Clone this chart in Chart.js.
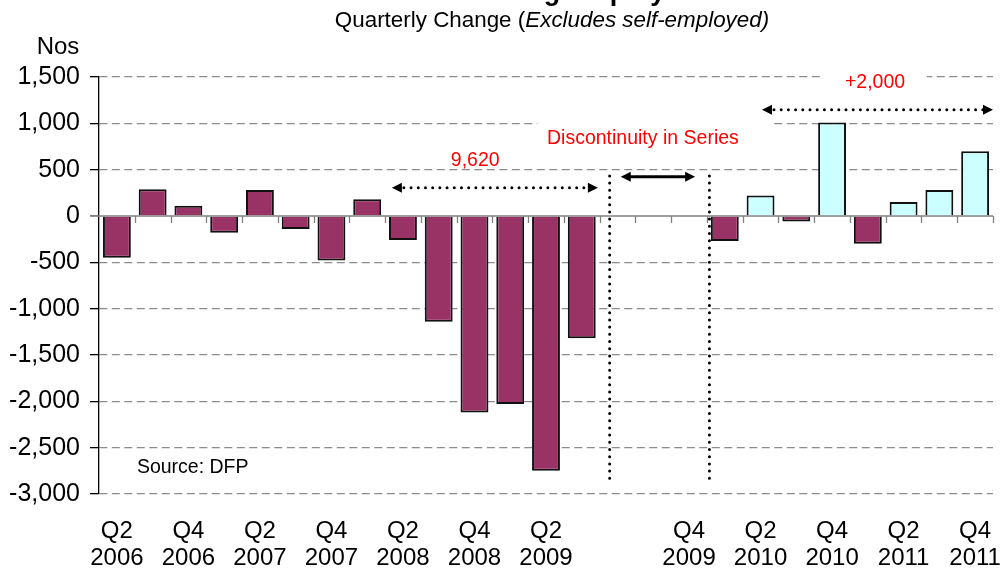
<!DOCTYPE html>
<html>
<head>
<meta charset="utf-8">
<script src="https://cdn.jsdelivr.net/npm/chart.js@4"></script>
<style>
  html, body { margin: 0; padding: 0; background: #fff; }
  #wrap { width: 1002px; height: 568px; }
</style>
</head>
<body>
<div id="wrap"><canvas id="empChart" width="1002" height="568"></canvas></div>
<script>
// Data

const quarters = [
  'Q2 2006', 'Q3 2006', 'Q4 2006', 'Q1 2007', 'Q2 2007', 'Q3 2007', 'Q4 2007',
  'Q1 2008', 'Q2 2008', 'Q3 2008', 'Q4 2008', 'Q1 2009', 'Q2 2009', 'Q3 2009',
  '', '',
  'Q4 2009', 'Q1 2010', 'Q2 2010', 'Q3 2010', 'Q4 2010', 'Q1 2011', 'Q2 2011', 'Q3 2011', 'Q4 2011',
]

// old series Q2 2006 - Q3 2009
const oldSeries = [-450, 290, 110, -180, 280, -140, -480, 180, -260, -1140, -2120, -2030, -2750, -1320]
// new series Q1 2010 - Q4 2011
const newSeries = [-270, 220, -60, 1010, -300, 150, 280, 700]

const yTickValues = [1500, 1000, 500, 0, -500, -1000, -1500, -2000, -2500, -3000]

const titleText = 'Manufacturing Employment'
const subtitleText = 'Quarterly Change ('
const subtitleItalic = 'Excludes self-employed)'

// -------------------------

const MAROON = '#993366'
const CYAN = '#CCFFFF'
const FONT = '"Liberation Sans", Arial, sans-serif'

const newStart = quarters.indexOf('Q1 2010')
const oldData = quarters.map((q, i) => (i < oldSeries.length ? oldSeries[i] : null))
const newData = quarters.map((q, i) => (i >= newStart ? newSeries[i - newStart] : null))

// Drawing helpers

const dottedLine = (ctx, x1, y1, x2, y2) => {
  ctx.save()
  ctx.strokeStyle = '#000'
  ctx.lineWidth = 3
  ctx.lineCap = 'round'
  ctx.setLineDash([0, 7.2])
  ctx.beginPath()
  ctx.moveTo(x1, y1)
  ctx.lineTo(x2, y2)
  ctx.stroke()
  ctx.restore()
}

const arrowHead = (ctx, x, y, dir) => {
  ctx.beginPath()
  ctx.moveTo(x, y)
  ctx.lineTo(x - dir * 10, y - 5)
  ctx.lineTo(x - dir * 10, y + 5)
  ctx.closePath()
  ctx.fill()
}

const doubleArrow = (ctx, x1, x2, y, dotted) => {
  ctx.save()
  ctx.fillStyle = '#000'
  if (dotted) {
    dottedLine(ctx, x1 + 12, y, x2 - 10, y)
  } else {
    ctx.strokeStyle = '#000'
    ctx.lineWidth = 3
    ctx.beginPath()
    ctx.moveTo(x1 + 6, y)
    ctx.lineTo(x2 - 6, y)
    ctx.stroke()
  }
  arrowHead(ctx, x1, y, -1)
  arrowHead(ctx, x2, y, 1)
  ctx.restore()
}

const label = (ctx, text, x, y, color, size, box) => {
  ctx.save()
  ctx.font = `${size}px ${FONT}`
  if (box) {
    ctx.fillStyle = '#fff'
    ctx.fillRect(box[0], box[1], box[2] - box[0], box[3] - box[1])
  }
  ctx.fillStyle = color
  ctx.textBaseline = 'middle'
  ctx.textAlign = 'center'
  ctx.fillText(text, x, y)
  ctx.restore()
}

// Zero line with tick marks at category boundaries
const zeroAxis = {
  id: 'zeroAxis',
  beforeDatasetsDraw(chart) {
    const { ctx, scales: { x, y } } = chart
    const y0 = y.getPixelForValue(0)
    const w = (x.right - x.left) / quarters.length
    ctx.save()
    ctx.strokeStyle = '#808080'
    ctx.lineWidth = 1.3
    ctx.beginPath()
    ctx.moveTo(x.left - 9, y0)
    ctx.lineTo(x.right, y0)
    for (let i = 1; i <= quarters.length; i++) {
      const px = Math.round(x.left + i * w) + 0.5
      ctx.moveTo(px, y0)
      ctx.lineTo(px, y0 + 7)
    }
    ctx.stroke()
    ctx.restore()
  },
}

// Annotations, titles
const annotations = {
  id: 'annotations',
  afterDraw(chart) {
    const { ctx, scales: { x, y } } = chart
    const w = (x.right - x.left) / quarters.length
    const X = (u) => x.left + (u + 0.5) * w
    const Y = (v) => y.getPixelForValue(v)

    // title (cut off at top) and subtitle
    ctx.save()
    ctx.fillStyle = '#000'
    ctx.textAlign = 'center'
    ctx.textBaseline = 'alphabetic'
    ctx.font = `bold 27px ${FONT}`
    ctx.fillText(titleText, 552, 0)
    ctx.font = `22.4px ${FONT}`
    const w1 = ctx.measureText(subtitleText).width
    ctx.font = `italic 22.4px ${FONT}`
    const w2 = ctx.measureText(subtitleItalic).width
    const sx = 552 - (w1 + w2) / 2
    ctx.textAlign = 'left'
    ctx.font = `22.4px ${FONT}`
    ctx.fillText(subtitleText, sx, 27)
    ctx.font = `italic 22.4px ${FONT}`
    ctx.fillText(subtitleItalic, sx + w1, 27)

    // axis unit
    ctx.font = `24px ${FONT}`
    ctx.textAlign = 'center'
    ctx.textBaseline = 'middle'
    ctx.fillText('Nos', 58, 47)
    ctx.restore()

    // discontinuity markers
    dottedLine(ctx, X(13.78), Y(433), X(13.78), Y(-2852))
    dottedLine(ctx, X(16.57), Y(433), X(16.57), Y(-2852))
    doubleArrow(ctx, X(14.09), X(16.17), Y(423), false)
    label(ctx, 'Discontinuity in Series', X(14.71), Y(833), 'red', 19.5,
      [X(11.76), Y(1040), X(18.36), Y(660)])

    // fall in old series
    doubleArrow(ctx, X(7.69), X(13.45), Y(304), true)
    label(ctx, '9,620', X(10.02), Y(600), 'red', 19.5)

    // rise in new series
    doubleArrow(ctx, X(18.04), X(24.5), Y(1147), true)
    label(ctx, '+2,000', X(21.2), Y(1442), 'red', 19.5,
      [X(19.75), Y(1560), X(22.65), Y(1330)])

    // source
    ctx.save()
    ctx.font = `19.5px ${FONT}`
    ctx.fillStyle = '#000'
    ctx.textBaseline = 'middle'
    ctx.fillText('Source: DFP', X(0.56), Y(-2719))
    ctx.restore()
  },
}

// Chart

const empCtx = document.getElementById('empChart').getContext('2d')

new Chart(empCtx, {
  type: 'bar',
  data: {
    labels: quarters,
    datasets: [
      {
        label: 'Old series',
        data: oldData,
        backgroundColor: MAROON,
        borderColor: '#111',
        borderWidth: 2,
        grouped: false,
        barPercentage: 0.78,
        categoryPercentage: 1,
      },
      {
        label: 'New series',
        data: newData,
        backgroundColor: (c) => (c.raw < 0 ? MAROON : CYAN),
        borderColor: '#111',
        borderWidth: 2,
        grouped: false,
        barPercentage: 0.78,
        categoryPercentage: 1,
      },
    ],
  },
  options: {
    responsive: false,
    animation: false,
    layout: { padding: { top: 77, right: 9, left: 0, bottom: 0 } },
    plugins: {
      legend: { display: false },
      tooltip: { enabled: false },
      title: { display: false },
    },
    scales: {
      x: {
        grid: { display: false, drawTicks: false },
        border: { display: false },
        ticks: {
          autoSkip: false,
          maxRotation: 0,
          padding: 24,
          color: '#000',
          font: { family: FONT, size: 24, lineHeight: 1.12 },
          callback: (value, index) => {
            const q = quarters[index]
            if (!q || !(q.startsWith('Q2') || q.startsWith('Q4'))) return ''
            return q.split(' ')
          },
        },
        afterFit: (scale) => {
          scale.height = 74
          scale.paddingLeft = 0
          scale.paddingRight = 0
        },
      },
      y: {
        min: -3000,
        max: 1500,
        afterBuildTicks: (scale) => { scale.ticks = yTickValues.map((v) => ({ value: v })) },
        grid: {
          color: (c) => (c.tick && c.tick.value === 0 ? 'rgba(0,0,0,0)' : '#8c8c8c'),
          lineWidth: 1.3,
          tickLength: 9,
          tickColor: (c) => (c.tick && c.tick.value === 0 ? '#808080' : '#000'),
        },
        border: { color: '#000', width: 1.3, dash: [8, 4.5] },
        ticks: {
          padding: 10,
          color: '#000',
          font: { family: FONT, size: 25 },
          callback: (v) => v.toLocaleString('en-US'),
        },
        afterFit: (scale) => {
          scale.width = 99
          scale.paddingTop = 0
          scale.paddingBottom = 0
        },
      },
    },
  },
  plugins: [zeroAxis, annotations],
})
</script>
</body>
</html>
